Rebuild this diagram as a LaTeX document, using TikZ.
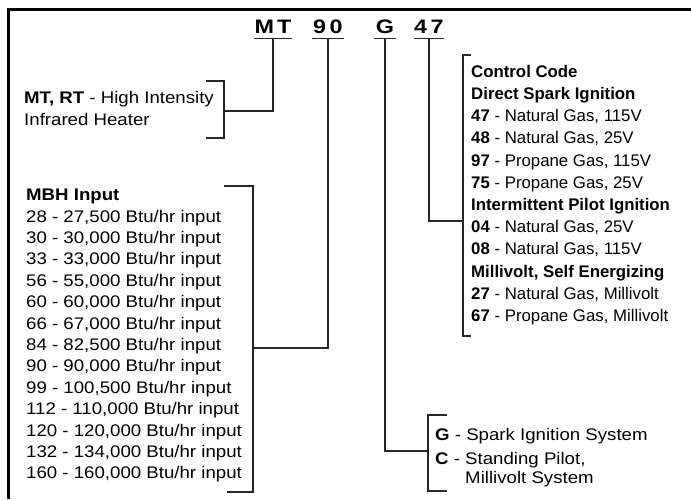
\documentclass[tikz,border=0pt]{standalone}
\usepackage{fontspec}
\setmainfont{Liberation Sans}
\newfontfamily\widefont{Liberation Sans}[FakeStretch=1.11]
\newfontfamily\codefont{Liberation Sans}[FakeStretch=1.2]
\begin{document}
\begin{tikzpicture}[x=1pt,y=-1pt,
  code/.style={font=\codefont\fontsize{19.5}{21}\selectfont\bfseries,
    inner xsep=0pt,inner ysep=5pt,minimum width=#1,anchor=base},
  wide/.style={font=\widefont\fontsize{16.8}{#1}\selectfont,
    inner sep=0pt,anchor=north west,align=left},
  ctrl/.style={font=\fontsize{16.8}{22.2}\selectfont,
    inner sep=0pt,anchor=north west,align=left},
  lead/.style={line width=1.1pt,black!85},
  frame/.style={line width=3pt}]
\useasboundingbox (0,0) rectangle (691,499);
\draw[frame] (8,499) -- (8,9) -- (691,9);
% model code
\node[code=36] (model) at (273,33) {M\kern3pt T};
\node[code=31] (input) at (328,33) {9\kern3.5pt 0};
\node[code=22] (ignition) at (385,33) {G};
\node[code=26] (control) at (429,33) {4\kern3.5pt 7};
\foreach \n in {model,input,ignition,control}
  \draw[lead] (\n.south west) -- (\n.south east);
% text blocks
\node[wide=22] (heater) at (24,91) {\textbf{MT, RT} - High Intensity\\Infrared Heater};
\node[wide=21.4] (mbhlist) at (26,189) {\textbf{MBH Input}\\
  28 - 27,500 Btu/hr input\\30 - 30,000 Btu/hr input\\33 - 33,000 Btu/hr input\\
  56 - 55,000 Btu/hr input\\60 - 60,000 Btu/hr input\\66 - 67,000 Btu/hr input\\
  84 - 82,500 Btu/hr input\\90 - 90,000 Btu/hr input\\99 - 100,500 Btu/hr input\\
  112 - 110,000 Btu/hr input\\120 - 120,000 Btu/hr input\\
  132 - 134,000 Btu/hr input\\160 - 160,000 Btu/hr input};
\node[ctrl] (ctrllist) at (471,65) {\textbf{Control Code}\\\textbf{Direct Spark Ignition}\\
  \textbf{47} - Natural Gas, 115V\\\textbf{48} - Natural Gas, 25V\\
  \textbf{97} - Propane Gas, 115V\\\textbf{75} - Propane Gas, 25V\\
  \textbf{Intermittent Pilot Ignition}\\
  \textbf{04} - Natural Gas, 25V\\\textbf{08} - Natural Gas, 115V\\
  \textbf{Millivolt, Self Energizing}\\
  \textbf{27} - Natural Gas, Millivolt\\\textbf{67} - Propane Gas, Millivolt};
\node[wide=21.5] (iglist) at (435,428) {\textbf{G} - Spark Ignition System\\[3pt]
  \textbf{C} - Standing Pilot,\\[-2.5pt]\phantom{\textbf{C} - }Millivolt System};
% brackets
\coordinate (heatbrk) at (224,111);
\coordinate (mbhbrk) at (253,348);
\coordinate (ctrlbrk) at (463,221);
\coordinate (igbrk) at (428,451);
\draw[lead] (206,81) -| (224,138) -- (206,138);
\draw[lead] (224,186) -| (253,492) -- (227,492);
\draw[lead] (471,55) -| (463,336) -- (471,336);
\draw[lead] (447,415) -| (428,491) -- (447,491);
% leaders
\draw[lead] (model.south) |- (heatbrk);
\draw[lead] (input.south) |- (mbhbrk);
\draw[lead] (ignition.south) |- (igbrk);
\draw[lead] (control.south) |- (ctrlbrk);
\end{tikzpicture}
\end{document}
